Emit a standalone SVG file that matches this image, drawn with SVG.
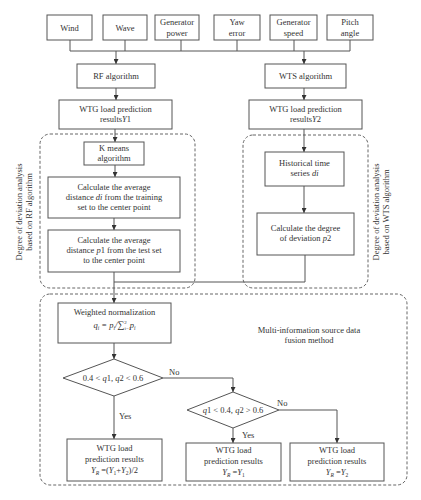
<svg xmlns="http://www.w3.org/2000/svg" width="421" height="500" viewBox="0 0 421 500">
<defs>
<marker id="ah" viewBox="0 0 10 10" refX="10" refY="5" markerWidth="5" markerHeight="5" orient="auto" markerUnits="userSpaceOnUse">
<path d="M0,0 L10,5 L0,10 z" fill="#333"/>
</marker>
<style>
.bx{fill:#fff;stroke:#555;stroke-width:1}
.dr{fill:none;stroke:#666;stroke-width:1;stroke-dasharray:3,2}
.ln{fill:none;stroke:#555;stroke-width:1}
.ar{fill:none;stroke:#555;stroke-width:1;marker-end:url(#ah)}
text{font-family:"Liberation Serif","Times New Roman",serif;font-size:8.5px;fill:#333;text-anchor:middle}
.st{text-anchor:start}
.i{font-style:italic}
</style>
</defs>
<rect width="421" height="500" fill="#fff"/>

<g id="regions">
<rect class="dr" x="40" y="134" width="155" height="154" rx="10"/>
<rect class="dr" x="243" y="135" width="125" height="153" rx="10"/>
<rect class="dr" x="40" y="294" width="367" height="191" rx="10"/>
</g>

<g id="connectors">
<path class="ln" d="M70,40 V51 M125,40 V51 M181,40 V51 M237,40 V51 M294,40 V51 M350,40 V51 M70,51 H350"/>
<path class="ar" d="M116,51 V64"/>
<path class="ar" d="M304,51 V64"/>
<path class="ar" d="M116,88 V100"/>
<path class="ar" d="M304,88 V100"/>
<path class="ar" d="M115,129 V142"/>
<path class="ar" d="M115,165 V177"/>
<path class="ar" d="M114,218 V230"/>
<path class="ar" d="M304,129 V152"/>
<path class="ar" d="M304,186 V213"/>
<path class="ln" d="M305,255 V282 H114"/>
<path class="ar" d="M114,272 V303"/>
<path class="ar" d="M114,343 V359"/>
<path class="ar" d="M163,378 H233 V392"/>
<path class="ar" d="M114,396 V439"/>
<path class="ar" d="M233,428 V443"/>
<path class="ar" d="M279,410 H337 V443"/>
</g>

<g id="n-wind"><rect class="bx" x="47" y="15" width="45" height="25"/><text x="69.5" y="30.5">Wind</text></g>
<g id="n-wave"><rect class="bx" x="103" y="15" width="44" height="25"/><text x="125" y="30.5">Wave</text></g>
<g id="n-genpower"><rect class="bx" x="155" y="15" width="44" height="25"/><text x="177" y="25">Generator</text><text x="177" y="36">power</text></g>
<g id="n-yaw"><rect class="bx" x="214" y="15" width="46" height="25"/><text x="237" y="25">Yaw</text><text x="237" y="36">error</text></g>
<g id="n-genspeed"><rect class="bx" x="270" y="15" width="47" height="25"/><text x="293.5" y="25">Generator</text><text x="293.5" y="36">speed</text></g>
<g id="n-pitch"><rect class="bx" x="327" y="15" width="46" height="25"/><text x="350" y="25">Pitch</text><text x="350" y="36">angle</text></g>

<g id="n-rf"><rect class="bx" x="77" y="64" width="78" height="24"/><text x="116" y="79">RF algorithm</text></g>
<g id="n-wts"><rect class="bx" x="265" y="64" width="81" height="24"/><text x="305.5" y="79">WTS algorithm</text></g>

<g id="n-y1"><rect class="bx" x="59" y="100" width="113" height="29"/><text x="115.5" y="112">WTG load prediction</text><text x="115.5" y="122">results<tspan class="i">Y</tspan>1</text></g>
<g id="n-y2"><rect class="bx" x="249" y="100" width="113" height="29"/><text x="305.5" y="112">WTG load prediction</text><text x="305.5" y="122">results<tspan class="i">Y</tspan>2</text></g>

<g id="n-kmeans"><rect class="bx" x="84" y="142" width="60" height="23"/><text x="114" y="151">K means</text><text x="114" y="161">algorithm</text></g>
<g id="n-calc1"><rect class="bx" x="48" y="177" width="132" height="41"/><text x="114" y="190">Calculate the average</text><text x="114" y="200">distance <tspan class="i">di</tspan> from the training</text><text x="114" y="210">set to the center point</text></g>
<g id="n-calc2"><rect class="bx" x="48" y="230" width="132" height="42"/><text x="114" y="243">Calculate the average</text><text x="114" y="253">distance <tspan class="i">p</tspan>1 from the test set</text><text x="114" y="263">to the center point</text></g>

<g id="n-hist"><rect class="bx" x="265" y="152" width="79" height="34"/><text x="304.5" y="166">Historical time</text><text x="304.5" y="176">series <tspan class="i">di</tspan></text></g>
<g id="n-calcp2"><rect class="bx" x="257" y="213" width="97" height="42"/><text x="305.5" y="231">Calculate the degree</text><text x="305.5" y="241">of deviation <tspan class="i">p</tspan>2</text></g>

<g id="lbl-left"><text transform="translate(22,212) rotate(-90)">Degree of deviation analysis</text><text transform="translate(32,212) rotate(-90)">based on RF algorithm</text></g>
<g id="lbl-right"><text transform="translate(379,212) rotate(-90)">Degree of deviation analysis</text><text transform="translate(389,212) rotate(-90)">based on WTS algorithm</text></g>

<g id="n-norm"><rect class="bx" x="58" y="303" width="113" height="40"/><text x="114.5" y="315">Weighted normalization</text><text x="114.5" y="328" class="i">q<tspan font-size="5.5" dy="1.5">i</tspan><tspan dy="-1.5"> = p</tspan><tspan font-size="5.5" dy="1.5">i</tspan><tspan dy="-1.5">/</tspan><tspan font-style="normal" font-size="10">∑</tspan><tspan font-size="5" dy="2" font-style="normal">i=1</tspan><tspan font-size="5" dx="-7" dy="-6" font-style="normal">2</tspan><tspan dx="3" dy="4">p</tspan><tspan font-size="5.5" dy="1.5">i</tspan></text></g>

<g id="lbl-fusion"><text x="309" y="333">Multi-information source data</text><text x="309" y="343">fusion method</text></g>

<g id="n-d1"><polygon class="bx" points="114,359 163,378 114,396 63,378"/><text x="113" y="381">0.4 &lt; <tspan class="i">q</tspan>1, <tspan class="i">q</tspan>2 &lt; 0.6</text></g>
<g id="n-d2"><polygon class="bx" points="233,392 279,410 233,428 187,410"/><text x="233" y="413"><tspan class="i">q</tspan>1 &lt; 0.4, <tspan class="i">q</tspan>2 &gt; 0.6</text></g>

<g id="labels"><text class="st" x="169" y="375">No</text><text class="st" x="277" y="406">No</text><text class="st" x="119" y="419">Yes</text><text class="st" x="242" y="438">Yes</text></g>

<g id="n-r1"><rect class="bx" x="67" y="439" width="95" height="42"/><text x="114.5" y="451">WTG load</text><text x="114.5" y="462">prediction results</text><text x="114.5" y="473"><tspan class="i">Y</tspan><tspan font-size="5.5" dy="1.5" class="i">R</tspan><tspan dy="-1.5"> =(</tspan><tspan class="i">Y</tspan><tspan font-size="5.5" dy="1.5">1</tspan><tspan dy="-1.5">+</tspan><tspan class="i">Y</tspan><tspan font-size="5.5" dy="1.5">2</tspan><tspan dy="-1.5">)/2</tspan></text></g>
<g id="n-r2"><rect class="bx" x="186" y="443" width="95" height="38"/><text x="233.5" y="453">WTG load</text><text x="233.5" y="464">prediction results</text><text x="233.5" y="475"><tspan class="i">Y</tspan><tspan font-size="5.5" dy="1.5" class="i">R</tspan><tspan dy="-1.5"> =</tspan><tspan class="i">Y</tspan><tspan font-size="5.5" dy="1.5">1</tspan></text></g>
<g id="n-r3"><rect class="bx" x="290" y="443" width="94" height="38"/><text x="337" y="453">WTG load</text><text x="337" y="464">prediction results</text><text x="337" y="475"><tspan class="i">Y</tspan><tspan font-size="5.5" dy="1.5" class="i">R</tspan><tspan dy="-1.5"> =</tspan><tspan class="i">Y</tspan><tspan font-size="5.5" dy="1.5">2</tspan></text></g>
</svg>
